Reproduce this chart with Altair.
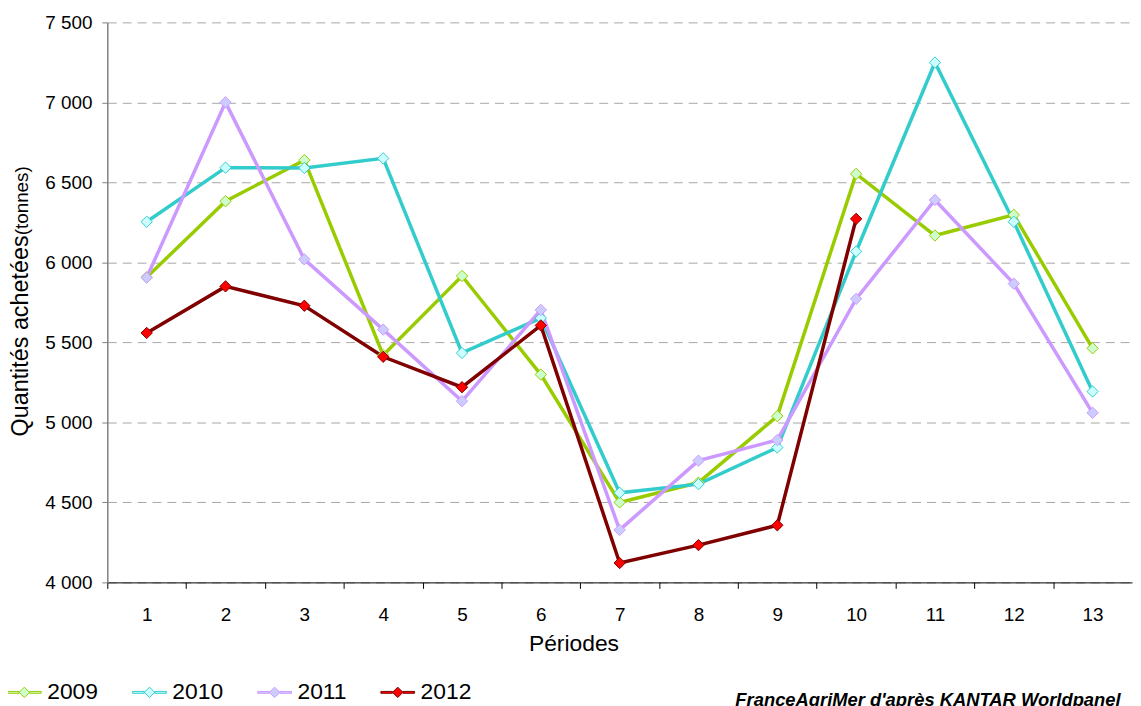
import altair as alt
import pandas as pd

# ---- data ----
periods = list(range(1, 14))
years = ["2009", "2010", "2011", "2012"]
v2009 = [5907, 6382, 6639, 5420, 5915, 5299, 4500, 4624, 5039, 6553, 6168, 6297, 5463]
v2010 = [6254, 6592, 6590, 6650, 5434, 5652, 4560, 4614, 4843, 6068, 7249, 6254, 5193]
v2011 = [5905, 7000, 6019, 5580, 5133, 5703, 4328, 4761, 4890, 5772, 6390, 5867, 5060]
v2012 = [5559, 5850, 5729, 5410, 5220, 5606, 4121, 4233, 4357, 6272]
y_ticks = [4000, 4500, 5000, 5500, 6000, 6500, 7000, 7500]
x_title = "Périodes"
y_title_main = ["Quantités achetées"]
y_title_unit = ["(tonnes)"]
source_text = ["FranceAgriMer d'après KANTAR Worldpanel"]

line_colors = ["#99CC00", "#33CCCC", "#CC99FF", "#800000"]
fill_colors = ["#CCFFCC", "#CCFFFF", "#CCCCFF", "#FF0000"]

rows = []
for yr, vals in zip(years, [v2009, v2010, v2011, v2012]):
    for p, v in zip(periods, vals):
        rows.append({"year": yr, "period": p, "value": v})
df = pd.DataFrame(rows)

FONT = "Liberation Sans"
W, H = 1032, 564
band = W / 13.0

x_enc = alt.X(
    "period:Q",
    scale=alt.Scale(domain=[0.5, 13.5], nice=False, zero=False),
    axis=alt.Axis(
        values=periods + [14],
        tickOffset=-band / 2,
        labelOffset=band / 2,
        labelExpr="datum.value > 13 ? '' : datum.label",
        labelFlush=False,
        labelOverlap=False,
        grid=False,
        tickSize=6,
        tickColor="#000000",
        domainColor="#000000",
        labelPadding=17,
        title=x_title,
        titleX=469.5,
        titleY=69,
        titleAlign="center",
        titleBaseline="alphabetic",
        titleFontSize=23,
        titleFontWeight="normal",
    ),
)
y_enc = alt.Y(
    "value:Q",
    scale=alt.Scale(domain=[4000, 7500], nice=False, zero=False),
    axis=alt.Axis(
        values=y_ticks,
        labelExpr="replace(format(datum.value, ','), ',', ' ')",
        grid=True,
        gridColor="#A6A6A6",
        gridDash=[9, 6],
        gridWidth=1,
        tickSize=5.5,
        tickColor="#808080",
        domainColor="#808080",
        domainWidth=1.5,
        labelPadding=10,
        title=None,
    ),
)

stroke_scale = alt.Scale(domain=years, range=line_colors)
fill_scale = alt.Scale(domain=years, range=fill_colors)

# legend symbol: two short thick bars (the line) and a diamond (the marker)
legend_path = (
    "M-1,-0.055L-0.31,-0.055L-0.31,0.055L-1,0.055Z"
    "M0.31,-0.055L1,-0.055L1,0.055L0.31,0.055Z"
    "M0,-0.31L0.31,0L0,0.31L-0.31,0Z"
)


def legend_cfg():
    return alt.Legend(
        orient="none",
        legendX=-101,
        legendY=657,
        direction="horizontal",
        title=None,
        symbolType=legend_path,
        symbolSize=1156,
        symbolStrokeWidth=1,
        labelOffset=5.5,
        columnPadding=32,
        labelFontSize=23,
        labelFont=FONT,
        labelColor="#000000",
        padding=0,
    )


lines = alt.Chart(df).mark_line(strokeWidth=3.5).encode(
    x=x_enc,
    y=y_enc,
    stroke=alt.Stroke("year:N", scale=stroke_scale, legend=None),
    detail="year:N",
)

points = alt.Chart(df).mark_point(shape="diamond", size=130, strokeWidth=1, opacity=1).encode(
    x=x_enc,
    y=y_enc,
    stroke=alt.Stroke("year:N", scale=stroke_scale, legend=legend_cfg()),
    fill=alt.Fill("year:N", scale=fill_scale, legend=legend_cfg()),
)

ytitle1 = alt.Chart(pd.DataFrame({"t": y_title_main})).mark_text(
    angle=270, align="left", baseline="alphabetic", fontSize=23.5, font=FONT, color="#000000"
).encode(text="t:N", x=alt.value(-80), y=alt.value(417))

ytitle2 = alt.Chart(pd.DataFrame({"t": y_title_unit})).mark_text(
    angle=270, align="left", baseline="alphabetic", fontSize=19, font=FONT, color="#000000"
).encode(text="t:N", x=alt.value(-80), y=alt.value(214.5))

source = alt.Chart(pd.DataFrame({"t": source_text})).mark_text(
    align="right", baseline="alphabetic", fontSize=18.5, font=FONT,
    fontWeight="bold", fontStyle="italic", color="#000000"
).encode(text="t:N", x=alt.value(1020.5), y=alt.value(688))

chart = (
    alt.layer(lines, points, ytitle1, ytitle2, source)
    .resolve_legend(stroke="independent", fill="independent")
    .properties(
        width=W,
        height=H,
        padding={"left": 100, "top": 12, "right": 1, "bottom": 122},
        autosize=alt.AutoSizeParams(type="none"),
        background="#FFFFFF",
    )
    .configure_view(stroke=None)
    .configure_axis(
        labelFont=FONT,
        titleFont=FONT,
        labelFontSize=19,
        labelColor="#000000",
        titleColor="#000000",
    )
)

chart.save("out.html", embed_options={"renderer": "svg", "actions": False})
